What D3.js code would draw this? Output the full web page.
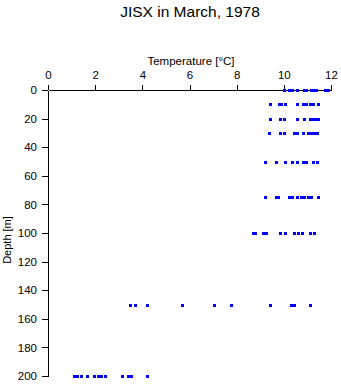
<!DOCTYPE html>
<html><head><meta charset="utf-8">
<script src="https://cdn.jsdelivr.net/npm/d3@7"></script>
<style>body{margin:0;background:#fff}svg{display:block}text{font-family:"Liberation Sans",Arial,sans-serif}</style>
</head><body>
<svg id="c" width="341" height="384"></svg>
<script>
const depths = [0, 10, 20, 30, 50, 75, 100, 150, 200];
const temp0   = [10.01, 10.22, 10.35, 10.56, 10.86, 10.94, 11.15, 11.24, 11.36, 11.75, 11.87];
const temp10  = [9.43, 9.80, 9.88, 10.03, 10.54, 10.81, 10.94, 11.11, 11.24, 11.45];
const temp20  = [9.43, 9.84, 10.01, 10.56, 10.86, 11.11, 11.24, 11.36, 11.45];
const temp30  = [9.35, 9.84, 10.01, 10.43, 10.54, 10.81, 11.02, 11.15, 11.28, 11.41];
const temp50  = [9.22, 9.65, 10.03, 10.33, 10.54, 10.81, 10.96, 11.24, 11.41];
const temp75  = [9.22, 9.65, 9.75, 10.24, 10.33, 10.54, 10.73, 10.86, 11.02, 11.15, 11.43];
const temp100 = [8.69, 8.78, 9.12, 9.24, 9.82, 10.03, 10.45, 10.62, 10.77, 11.13, 11.26];
const temp150 = [3.48, 3.69, 4.20, 5.70, 7.02, 7.74, 9.43, 10.30, 10.43, 11.13];
const temp200 = [1.12, 1.25, 1.40, 1.67, 1.93, 2.10, 2.23, 2.40, 3.12, 3.39, 3.52, 4.20];
const tempTicks = [0, 2, 4, 6, 8, 10, 12];
const depthTicks = [0, 20, 40, 60, 80, 100, 120, 140, 160, 180, 200];
const title = "JISX in March, 1978";
const xLabel = "Temperature [°C]";
const yLabel = "Depth [m]";

const temps = [temp0, temp10, temp20, temp30, temp50, temp75, temp100, temp150, temp200];
const points = [];
depths.forEach((d, i) => temps[i].forEach(t => points.push({depth: d, temp: t})));

const svg = d3.select("#c");
const x = d3.scaleLinear().domain([0, 12]).range([48, 331]);
const y = d3.scaleLinear().domain([0, 200]).range([90, 376]);

const fs = "11.5px";
const xa = svg.append("g").attr("transform", `translate(0,${y(0)})`)
  .call(d3.axisTop(x).tickValues(tempTicks).tickFormat(d3.format("d")).tickSize(5).tickSizeOuter(0).tickPadding(6));
const ya = svg.append("g").attr("transform", `translate(${x(0)},0)`)
  .call(d3.axisLeft(y).tickValues(depthTicks).tickFormat(d3.format("d")).tickSize(6).tickSizeOuter(0).tickPadding(5));
[xa, ya].forEach(a => {
  a.selectAll("path,line").attr("stroke", "#000").attr("stroke-width", 1).attr("shape-rendering", "crispEdges");
  a.selectAll("text").attr("fill", "#000").style("font-size", fs).style("font-family", '"Liberation Sans",Arial,sans-serif');
});

svg.append("text").attr("x", 190).attr("y", 17).attr("text-anchor", "middle")
  .style("font-size", "15.5px").attr("fill", "#000").text(title);
svg.append("text").attr("x", 191).attr("y", 65).attr("text-anchor", "middle")
  .style("font-size", "11.5px").attr("fill", "#000").text(xLabel);
svg.append("text").attr("transform", "translate(11,240) rotate(-90)").attr("text-anchor", "middle")
  .style("font-size", "11px").attr("fill", "#000").text(yLabel);

svg.append("g").selectAll("rect").data(points).join("rect")
  .attr("x", d => Math.round(x(d.temp)) - 1)
  .attr("y", d => Math.round(y(d.depth)) - 1)
  .attr("width", 3).attr("height", 3)
  .attr("fill", "#0000ff");
</script>
</body></html>
